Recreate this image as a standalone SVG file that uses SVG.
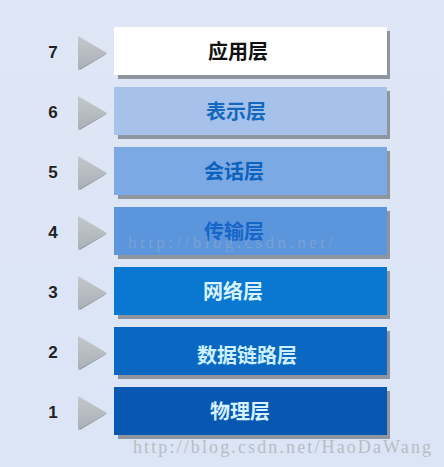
<svg xmlns="http://www.w3.org/2000/svg" width="444" height="467" viewBox="0 0 444 467">
<defs>
<linearGradient id="tri" x1="0" y1="0" x2="0" y2="1">
<stop offset="0" stop-color="#c4c8cc"/>
<stop offset="1" stop-color="#aab0b6"/>
</linearGradient>
<linearGradient id="bg" x1="0" y1="0" x2="0" y2="1">
<stop offset="0" stop-color="#dfe6f6"/>
<stop offset="1" stop-color="#dbe5f5"/>
</linearGradient>
</defs>
<style>
.num{font-family:"Liberation Sans","Noto Sans",sans-serif;font-size:17px;font-weight:bold;fill:#222;text-anchor:middle}
.lbl{font-family:"Noto Sans CJK SC",sans-serif;font-size:20px;font-weight:bold;text-anchor:middle}
.shadow{fill:#8e959e}
.wm{font-family:"Liberation Serif",serif;fill:#b8bcc4}
</style>
<rect width="444" height="467" fill="url(#bg)"/>
<g id="connectors"/>
<g id="layer7">
<text class="num" x="53" y="58">7</text>
<polygon points="78,36 107,53 78,69" fill="url(#tri)"/>
<polygon points="78,69 107,53 105,55 80,70" fill="#9aa0a6"/>
<rect class="shadow" x="118" y="31" width="272" height="48"/>
<rect x="114" y="27" width="273" height="48" fill="#ffffff"/>
<text class="lbl" x="238" y="59" fill="#111">应用层</text>
</g>
<g id="layer6">
<text class="num" x="53" y="118">6</text>
<polygon points="78,96 107,113 78,129" fill="url(#tri)"/>
<polygon points="78,129 107,113 105,115 80,130" fill="#9aa0a6"/>
<rect class="shadow" x="118" y="91" width="272" height="48"/>
<rect x="114" y="87" width="273" height="48" fill="#a6c2ea"/>
<text class="lbl" x="236" y="119" fill="#1468c0">表示层</text>
</g>
<g id="layer5">
<text class="num" x="53" y="178">5</text>
<polygon points="78,156 107,173 78,189" fill="url(#tri)"/>
<polygon points="78,189 107,173 105,175 80,190" fill="#9aa0a6"/>
<rect class="shadow" x="118" y="151" width="272" height="48"/>
<rect x="114" y="147" width="273" height="48" fill="#7ba9e3"/>
<text class="lbl" x="234" y="179" fill="#0c62bc">会话层</text>
</g>
<g id="layer4">
<text class="num" x="53" y="238">4</text>
<polygon points="78,216 107,233 78,249" fill="url(#tri)"/>
<polygon points="78,249 107,233 105,235 80,250" fill="#9aa0a6"/>
<rect class="shadow" x="118" y="211" width="272" height="48"/>
<rect x="114" y="207" width="273" height="48" fill="#5b95dc"/>
<text class="lbl" x="234" y="239" fill="#1566c8">传输层</text>
</g>
<g id="layer3">
<text class="num" x="53" y="298">3</text>
<polygon points="78,276 107,293 78,309" fill="url(#tri)"/>
<polygon points="78,309 107,293 105,295 80,310" fill="#9aa0a6"/>
<rect class="shadow" x="118" y="271" width="272" height="48"/>
<rect x="114" y="267" width="273" height="48" fill="#0a78d0"/>
<text class="lbl" x="233" y="299" fill="#d8f2ff">网络层</text>
</g>
<g id="layer2">
<text class="num" x="53" y="358">2</text>
<polygon points="78,336 107,353 78,369" fill="url(#tri)"/>
<polygon points="78,369 107,353 105,355 80,370" fill="#9aa0a6"/>
<rect class="shadow" x="118" y="331" width="272" height="48"/>
<rect x="114" y="327" width="273" height="48" fill="#0a68c2"/>
<text class="lbl" x="247" y="363" fill="#ccf0ff">数据链路层</text>
</g>
<g id="layer1">
<text class="num" x="53" y="418">1</text>
<polygon points="78,396 107,413 78,429" fill="url(#tri)"/>
<polygon points="78,429 107,413 105,415 80,430" fill="#9aa0a6"/>
<rect class="shadow" x="118" y="391" width="272" height="48"/>
<rect x="114" y="387" width="273" height="48" fill="#0858b2"/>
<text class="lbl" x="240" y="419" fill="#d4f2ff">物理层</text>
</g>
<text class="wm" x="128" y="248" font-size="17" fill-opacity="0.35" textLength="205">http://blog.csdn.net/</text>
<text class="wm" x="133" y="453" font-size="18" textLength="298">http://blog.csdn.net/HaoDaWang</text>
</svg>
